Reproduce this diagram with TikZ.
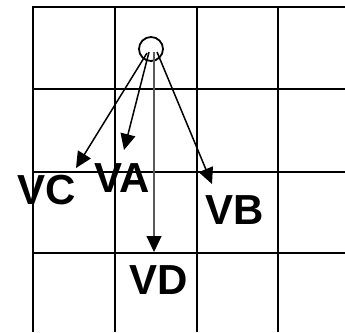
\documentclass[tikz,border=0pt]{standalone}
\usepackage{fontspec}
\setmainfont{Liberation Sans}
\usetikzlibrary{arrows.meta}

\tikzset{
  gridline/.style={line width=2.6pt},
  vec/.style={line width=1.5pt, -{Triangle[length=16pt,width=15pt,black]}},
  vlabel/.style={inner sep=0pt, font=\fontsize{42}{42}\selectfont\bfseries}
}

\begin{document}
\begin{tikzpicture}[x=1pt,y=-1pt]
        \useasboundingbox (0,0) rectangle (345,332);
        % grid
        \foreach \gx in {33,115,197,278}
          \draw [gridline] (\gx,6) -- (\gx,332);
        \foreach \gy in {7,89,172,253}
          \draw [gridline] (32,\gy) -- (345,\gy);
        % source
        \node [draw, circle, line width=1.8pt, minimum size=24pt, inner sep=0pt] (src) at (151,49) {};
        \coordinate (sC) at (147,53);
        \coordinate (sA) at (149,52);
        \coordinate (sD) at (154,52);
        \coordinate (sB) at (157,52);
        \coordinate (tC) at (76,168);
        \coordinate (tA) at (124,150);
        \coordinate (tD) at (154,252);
        \coordinate (tB) at (212,184);
        \draw [vec] (sC) -- (tC);
        \draw [vec] (sA) -- (tA);
        \draw [vec, line width=1.2pt, draw=black!65] (sD) -- (tD);
        \draw [vec] (sB) -- (tB);
        \node [vlabel] (lC) at (47,190) {VC};
        \node [vlabel] (lA) at (122,178) {VA};
        \node [vlabel] (lB) at (235,210) {VB};
        \node [vlabel] (lD) at (159,280) {VD};
\end{tikzpicture}
\end{document}
